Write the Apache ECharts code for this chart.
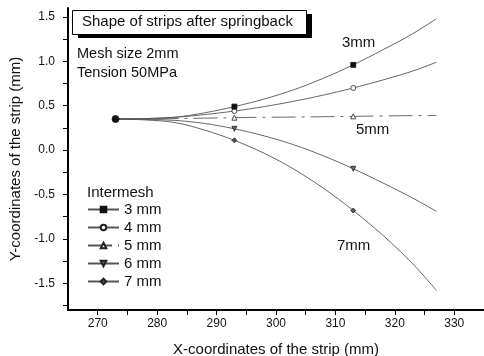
<!DOCTYPE html>
<html>
<head>
<meta charset="utf-8">
<script src="https://cdn.jsdelivr.net/npm/echarts@6/dist/echarts.min.js"></script>
<style>
html,body{margin:0;padding:0;background:#fff;}
#chart{width:484px;height:356px;}
</style>
</head>
<body>
<div id="chart"></div>
<script>
// ---- data ----
const xValues = [273, 278, 283, 288, 293, 298, 303, 308, 313, 318, 323, 327];
const markerX = [293, 313];
const seriesNames = ['3 mm', '4 mm', '5 mm', '6 mm', '7 mm'];
const y3mm = [0.35, 0.355, 0.37, 0.42, 0.49, 0.575, 0.68, 0.81, 0.96, 1.13, 1.31, 1.48];
const y4mm = [0.35, 0.355, 0.37, 0.40, 0.44, 0.49, 0.55, 0.62, 0.70, 0.79, 0.89, 0.99];
const y5mm = [0.35, 0.35, 0.355, 0.36, 0.365, 0.37, 0.372, 0.376, 0.38, 0.385, 0.388, 0.39];
const y6mm = [0.35, 0.345, 0.335, 0.30, 0.24, 0.16, 0.06, -0.065, -0.21, -0.37, -0.54, -0.69];
const y7mm = [0.35, 0.34, 0.31, 0.225, 0.11, -0.035, -0.215, -0.43, -0.68, -0.96, -1.28, -1.58];
const xTickLabels = [270, 280, 290, 300, 310, 320, 330];
const xMinorTicks = [270, 275, 280, 285, 290, 295, 300, 305, 310, 315, 320, 325, 330];
const yTickLabels = [-1.5, -1.0, -0.5, 0.0, 0.5, 1.0, 1.5];
const yMinorTicks = [-1.75, -1.5, -1.25, -1.0, -0.75, -0.5, -0.25, 0, 0.25, 0.5, 0.75, 1.0, 1.25, 1.5];
const titleText = 'Shape of strips after springback';
const noteLines = ['Mesh size 2mm', 'Tension 50MPa'];
const curveLabels = ['3mm', '5mm', '7mm'];
const legendTitle = 'Intermesh';

const FONT = '"Liberation Sans", Arial, Helvetica, sans-serif';
const LINE = '#555';

const symbols = [
  {symbol: 'rect', fill: '#111', border: '#111'},
  {symbol: 'circle', fill: '#fff', border: '#222'},
  {symbol: 'triangle', fill: '#fff', border: '#222'},
  {symbol: 'path://M0,0 L10,0 L5,9 Z', fill: '#666', border: '#222'},
  {symbol: 'diamond', fill: '#555', border: '#222'}
];
const allY = [y3mm, y4mm, y5mm, y6mm, y7mm];

function buildData(ys, idx) {
  return xValues.map((x, i) => {
    const item = {value: [x, ys[i]]};
    if (i === 0 && idx === 0) {
      item.symbol = 'circle';
      item.symbolSize = 7;
      item.itemStyle = {color: '#111', borderColor: '#111'};
    } else if (markerX.indexOf(x) < 0) {
      item.symbol = 'none';
    }
    return item;
  });
}

const series = seriesNames.map((name, idx) => ({
  name: name,
  type: 'line',
  data: buildData(allY[idx], idx),
  smooth: 0.35,
  showAllSymbol: true,
  symbol: symbols[idx].symbol,
  symbolSize: 5,
  itemStyle: {color: symbols[idx].fill, borderColor: symbols[idx].border, borderWidth: 0.8},
  lineStyle: {color: LINE, width: 0.9, type: idx === 2 ? [24, 6, 3, 6] : 'solid'},
  emphasis: {disabled: true},
  animation: false,
  z: idx === 0 ? 3 : 2
}));

const chart = echarts.init(document.getElementById('chart'), null, {renderer: 'canvas'});
chart.setOption({
  backgroundColor: '#fff',
  animation: false,
  grid: {left: 68, right: 0, top: 8, bottom: 46, containLabel: false, outerBoundsMode: 'none'},
  xAxis: {
    type: 'value', min: 265, max: 335,
    name: 'X-coordinates of the strip (mm)', nameLocation: 'middle', nameGap: 32,
    nameTextStyle: {fontFamily: FONT, fontSize: 15, color: '#111'},
    axisLine: {show: true, onZero: false, lineStyle: {color: '#000', width: 2}},
    axisTick: {show: true, inside: false, length: 5, customValues: xMinorTicks, lineStyle: {color: '#000', width: 1}},
    axisLabel: {customValues: xTickLabels, fontFamily: FONT, fontSize: 12, color: '#111', margin: 8},
    splitLine: {show: false}
  },
  yAxis: {
    type: 'value', min: -1.8, max: 1.6,
    name: 'Y-coordinates of the strip (mm)', nameLocation: 'middle', nameGap: 35,
    nameTextStyle: {fontFamily: FONT, fontSize: 15, color: '#111'},
    axisLine: {show: true, onZero: false, lineStyle: {color: '#000', width: 2}},
    axisTick: {show: true, inside: false, length: 5, customValues: yMinorTicks, lineStyle: {color: '#000', width: 1}},
    axisLabel: {customValues: yTickLabels, fontFamily: FONT, fontSize: 12, color: '#111', margin: 13,
      formatter: v => v.toFixed(1)},
    splitLine: {show: false}
  },
  legend: {
    orient: 'vertical', left: 87, top: 202, padding: 0, itemWidth: 31, itemHeight: 7, itemGap: 3,
    textStyle: {fontFamily: FONT, fontSize: 15, color: '#111'},
    data: seriesNames, selectedMode: false
  },
  graphic: [
    {type: 'rect', left: 78, top: 14, shape: {width: 234, height: 24}, style: {fill: '#000'}, z: 10},
    {type: 'rect', left: 72, top: 10, shape: {width: 234, height: 24}, style: {fill: '#fff', stroke: '#000', lineWidth: 1}, z: 11},
    {type: 'text', left: 82, top: 14, style: {text: titleText, font: '15px ' + FONT, fill: '#111'}, z: 12},
    {type: 'text', left: 77, top: 46, style: {text: noteLines[0], font: '14.5px ' + FONT, fill: '#111'}, z: 12},
    {type: 'text', left: 77, top: 65, style: {text: noteLines[1], font: '14.5px ' + FONT, fill: '#111'}, z: 12},
    {type: 'text', left: 342, top: 35, style: {text: curveLabels[0], font: '15px ' + FONT, fill: '#111'}, z: 12},
    {type: 'text', left: 356, top: 122, style: {text: curveLabels[1], font: '15px ' + FONT, fill: '#111'}, z: 12},
    {type: 'text', left: 337, top: 238, style: {text: curveLabels[2], font: '15px ' + FONT, fill: '#111'}, z: 12},
    {type: 'text', left: 87, top: 185, style: {text: legendTitle, font: '15px ' + FONT, fill: '#111'}, z: 12}
  ],
  series: series
});
</script>
</body>
</html>
